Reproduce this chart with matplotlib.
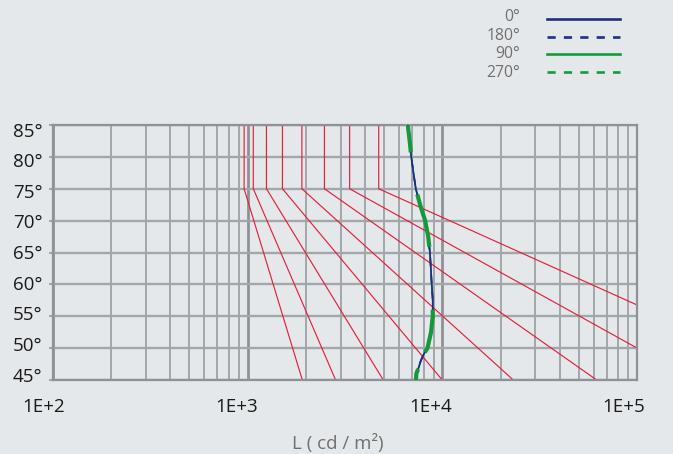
import numpy as np
import matplotlib
matplotlib.use("Agg")
import matplotlib.pyplot as plt
from matplotlib.lines import Line2D
from matplotlib.transforms import ScaledTranslation

plt.rcParams['font.family'] = ['Open Sans', 'DejaVu Sans']
plt.rcParams['lines.scale_dashes'] = False

# Glare-limit lines: constant luminance from 85° down to 75°, then rising towards 45°
limit_L_upper = [960, 1070, 1250, 1510, 1900, 2480, 3340, 4710]
limit_L_45 = [1910, 2830, 4970, 9980, 23100, 61900, 197000, 715000]
limit_angles = [85, 75, 45]

# Luminaire luminance curve (cd/m²) vs. angle
gamma = [45, 46, 47, 48, 49, 50, 52.5, 55, 57.5, 60, 65, 67.5, 70, 72.5, 75, 77.5, 80, 82.5, 85]
lum_c0 = [7310, 7350, 7560, 7740, 8000, 8380, 8740, 8920, 8920, 8810, 8630, 8450,
          8150, 7680, 7300, 7100, 6920, 6790, 6640]
lum_c180 = lum_c0
lum_c90 = lum_c0
lum_c270 = lum_c0

x_ticks = [1e2, 1e3, 1e4, 1e5]
x_tick_labels = ['1E+2', '1E+3', '1E+4', '1E+5']
y_ticks = [45, 50, 55, 60, 65, 70, 75, 80, 85]
legend_labels = ['0°', '180°', '90°', '270°']

BG = '#e4e8eb'
GRID = '#a3a7ab'
GRID_MAJ = '#8e9296'
RED = '#e2213b'
BLUE = '#1f2d86'
GREEN = '#16993b'
TXT = '#1a1a1a'
GREY_TXT = '#707070'

W, H = 673, 454
fig = plt.figure(figsize=(W / 100, H / 100), dpi=100)
fig.patch.set_facecolor(BG)

left, right, top, bottom = 52.7, 637.3, 125, 380
ax = fig.add_axes([left / W, (H - bottom) / H, (right - left) / W, (bottom - top) / H])
ax.set_facecolor(BG)
ax.set_xscale('log')
ax.set_xlim(1e2, 1e5)
ax.set_ylim(45, 85)

# grid
ax.set_xticks(x_ticks)
ax.set_xticks([m * 10 ** e for e in range(2, 5) for m in range(2, 10)], minor=True)
ax.set_yticks(y_ticks)
ax.grid(axis='x', which='major', color=GRID_MAJ, lw=2.0, zorder=0)
ax.grid(axis='x', which='minor', color=GRID, lw=1.4, zorder=0)
ax.grid(axis='y', which='major', color=GRID, lw=1.7, zorder=0)
ax.set_axisbelow(True)
for s in ax.spines.values():
    s.set_color(GRID_MAJ)
    s.set_linewidth(1.6)
ax.tick_params(axis='x', which='both', length=0, labelbottom=False)
ax.tick_params(axis='y', which='both', length=3, width=1.5, color=GRID, labelleft=False)

# tick labels
for i, (v, lab) in enumerate(zip(x_ticks, x_tick_labels)):
    dx = -(9 + 1.6 * i) / 100
    tr = ax.get_xaxis_transform() + ScaledTranslation(dx, -32 / 100, fig.dpi_scale_trans)
    ax.text(v, 0, lab, transform=tr, ha='center', va='baseline', fontsize=13.5, color=TXT)
for v in y_ticks:
    i = (85 - v) / 5
    dy = -(11.6 - 1.25 * i) / 100
    tr = ax.get_yaxis_transform() + ScaledTranslation(-10 / 100, dy, fig.dpi_scale_trans)
    ax.text(0, v, f'{v}°', transform=tr, ha='right', va='baseline', fontsize=13.5, color=TXT)

fig.text(337.5 / W, (H - 449) / H, 'L ( cd / m²)', ha='center', va='baseline',
         fontsize=13.5, color=GREY_TXT)

# glare-limit lines
for lu, l45 in zip(limit_L_upper, limit_L_45):
    ax.plot([lu, lu, l45], limit_angles, color=RED, lw=0.85, zorder=2, clip_on=True)

# luminance curves (paths run from 45° upward)
ax.plot(lum_c90, gamma, color=GREEN, lw=1.2, zorder=3)
ax.plot(lum_c0, gamma, color=BLUE, lw=1.2, zorder=4)
ax.plot(lum_c180, gamma, color=BLUE, lw=1.2, ls=(0, (6, 6)), zorder=5)
ax.plot(lum_c270, gamma, color=GREEN, lw=3.0,
        ls=(0, (8.1, 13.1, 31.5, 45.4, 38.7, 30.7, 19.3, 60)), zorder=6)

# legend
leg_styles = [(BLUE, '-'), (BLUE, (0, (5.9, 5.9))), (GREEN, '-'), (GREEN, (0, (5.9, 5.9)))]
text_base = [20.7, 40.0, 58.3, 76.7]
line_y = [19.3, 36.7, 54.3, 72.3]
for lab, (c, ls), tb, ly in zip(legend_labels, leg_styles, text_base, line_y):
    fig.text(520 / W, (H - tb) / H, lab, ha='right', va='baseline', fontsize=11.3, color=GREY_TXT)
    fig.add_artist(Line2D([546.7 / W, 620 / W], [(H - ly) / H] * 2, color=c, lw=1.9, ls=ls,
                          transform=fig.transFigure))

fig.savefig('out.png', dpi=100, facecolor=BG)
